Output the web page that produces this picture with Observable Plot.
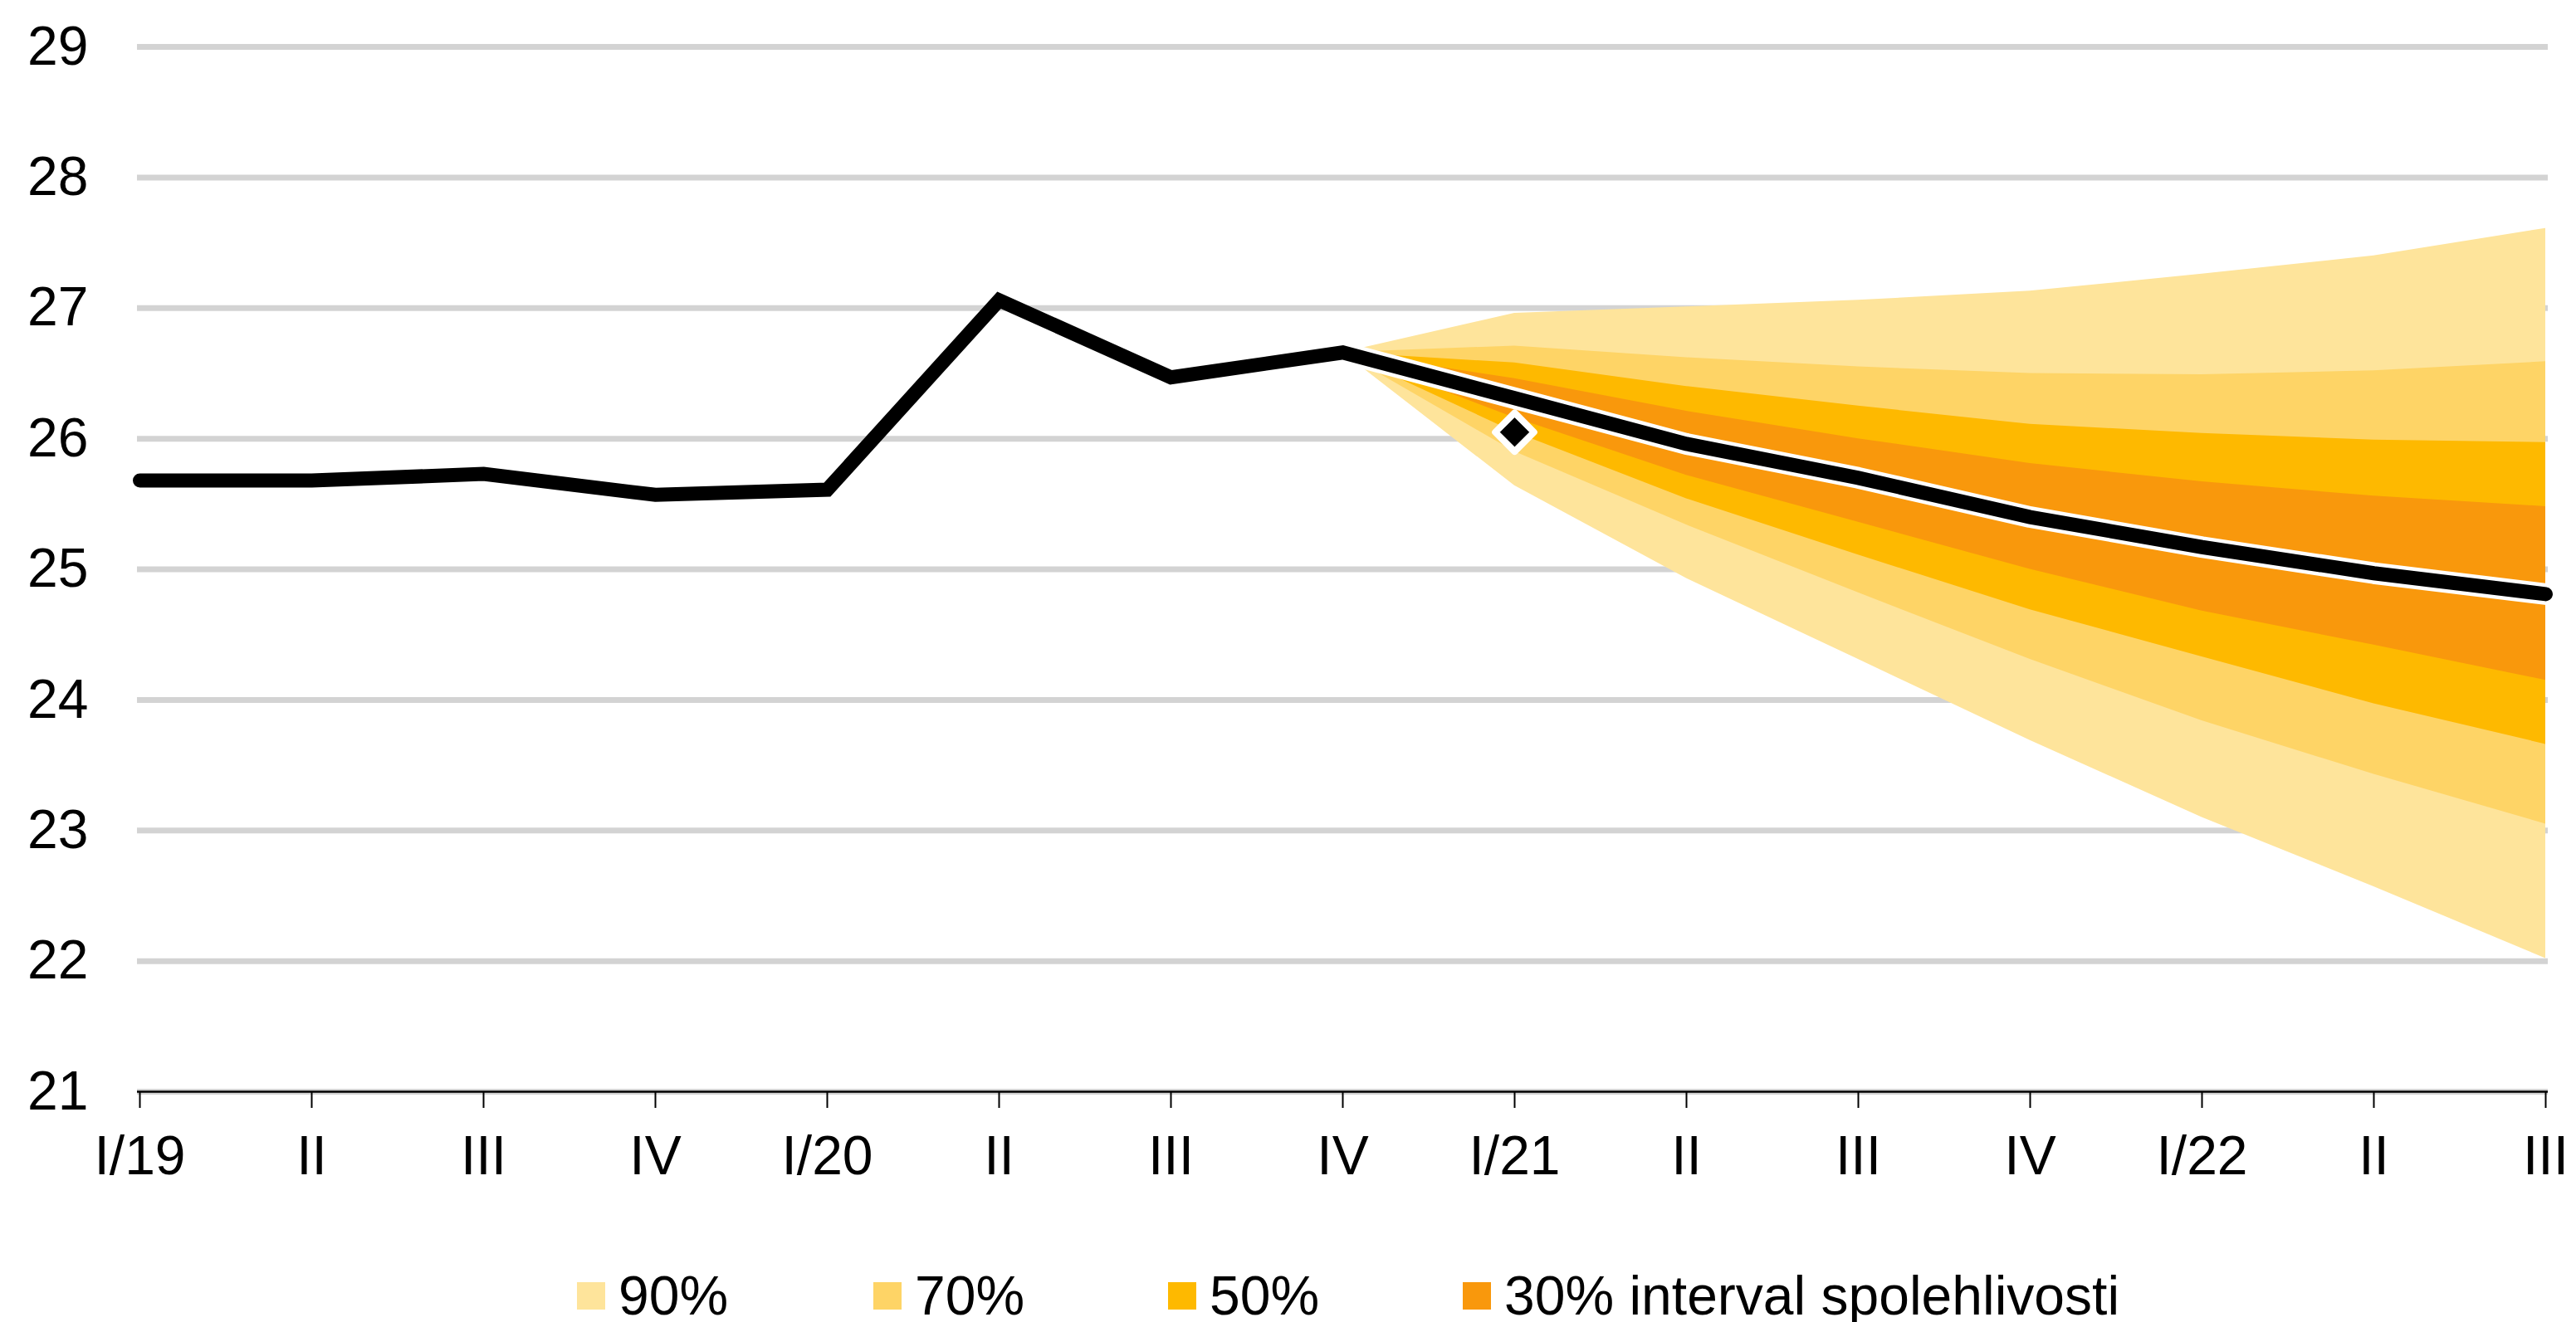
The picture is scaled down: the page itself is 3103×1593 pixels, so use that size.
<!DOCTYPE html>
<html>
<head>
<meta charset="utf-8">
<script src="https://cdn.jsdelivr.net/npm/d3@7"></script>
<script src="https://cdn.jsdelivr.net/npm/@observablehq/plot@0.6"></script>
<style>
  html, body { margin: 0; padding: 0; background: #fff; }
  body { width: 3103px; height: 1593px; position: relative; overflow: hidden; font-family: "Liberation Sans", Arial, sans-serif; }
  #chart { position: absolute; left: 0; top: 0; }
  .legend-item { position: absolute; top: 1523px; height: 76px; display: flex; align-items: center; font-size: 66px; line-height: 76px; color: #000; white-space: nowrap; }
  .sw { width: 34px; height: 33px; margin-right: 16px; display: inline-block; }
</style>
</head>
<body>
<div id="chart"></div>
<div id="legend"></div>
<script>
// ---- Data ----
const periods = ["I/19","II/19","III/19","IV/19","I/20","II/20","III/20","IV/20","I/21","II/21","III/21","IV/21","I/22","II/22","III/22"];
const tickLabels = ["I/19","II","III","IV","I/20","II","III","IV","I/21","II","III","IV","I/22","II","III"];

// actual (I/19 .. IV/20)
const actualPeriods = ["I/19","II/19","III/19","IV/19","I/20","II/20","III/20","IV/20"];
const actualValues = [25.68, 25.68, 25.73, 25.57, 25.61, 27.06, 26.47, 26.66];

// forecast (IV/20 .. III/22)
const fcPeriods = ["IV/20","I/21","II/21","III/21","IV/21","I/22","II/22","III/22"];
const fcCenter = [26.66, 26.31, 25.96, 25.70, 25.40, 25.17, 24.97, 24.81];
const lo90 = [26.66, 25.64, 24.93, 24.31, 23.69, 23.10, 22.57, 22.02];
const hi90 = [26.66, 26.96, 27.01, 27.06, 27.13, 27.26, 27.40, 27.61];
const lo70 = [26.66, 25.90, 25.34, 24.82, 24.31, 23.84, 23.43, 23.05];
const hi70 = [26.66, 26.71, 26.62, 26.55, 26.50, 26.49, 26.52, 26.59];
const lo50 = [26.66, 26.05, 25.54, 25.11, 24.69, 24.33, 23.97, 23.66];
const hi50 = [26.66, 26.58, 26.40, 26.25, 26.11, 26.04, 25.99, 25.97];
const lo30 = [26.66, 26.16, 25.72, 25.36, 25.00, 24.68, 24.42, 24.15];
const hi30 = [26.66, 26.46, 26.21, 26.00, 25.81, 25.67, 25.56, 25.48];

// previous forecast point
const prevPeriod = ["I/21"];
const prevValue = [26.05];

const yTicks = [21, 22, 23, 24, 25, 26, 27, 28, 29];
const bandNames = ["90%", "70%", "50%", "30% interval spolehlivosti"];
const bandColors = ["#fee49b", "#fed466", "#feb900", "#f9980c"];

// ---- Build tables ----
const actual = actualPeriods.map((p, i) => ({p, v: actualValues[i]}));
const all = actual.concat(fcPeriods.slice(1).map((p, i) => ({p, v: fcCenter[i + 1]})));
const fc = fcPeriods.map((p, i) => ({p, v: fcCenter[i]}));
const bands = [[lo90, hi90], [lo70, hi70], [lo50, hi50], [lo30, hi30]].map(([lo, hi]) =>
  fcPeriods.map((p, i) => ({p, lo: lo[i], hi: hi[i]})));
const prev = prevPeriod.map((p, i) => ({p, v: prevValue[i]}));

const chart = Plot.plot({
  width: 3103,
  height: 1460,
  marginLeft: 165,
  marginRight: 34,
  marginTop: 56,
  marginBottom: 145,
  style: {fontFamily: "'Liberation Sans', Arial, sans-serif", fontSize: "66px", color: "#000", background: "#fff"},
  x: {type: "point", domain: periods, padding: 0},
  y: {domain: [21, 29]},
  marks: [
    Plot.ruleY(yTicks, {stroke: "#d3d3d3", strokeWidth: 7}),
    ...bands.map((b, k) => Plot.areaY(b, {x: "p", y1: "lo", y2: "hi", fill: bandColors[k]})),
    Plot.line(fc, {x: "p", y: "v", stroke: "#fff", strokeWidth: 26, strokeLinejoin: "miter"}),
    Plot.line(all, {x: "p", y: "v", stroke: "#000", strokeWidth: 17, strokeLinejoin: "miter", strokeMiterlimit: 6}),
    Plot.dot(prev, {x: "p", y: "v", symbol: "diamond2", r: 21, fill: "#000", stroke: "#fff", strokeWidth: 8, strokeLinejoin: "round"}),
    Plot.ruleY([21], {stroke: "#000", strokeWidth: 2.5}),
    Plot.axisX({tickSize: 20, tickPadding: 33, stroke: "#000", strokeWidth: 2, fontSize: 66, label: null,
      tickFormat: d => tickLabels[periods.indexOf(d)]}),
    Plot.axisY({ticks: yTicks, tickSize: 0, tickPadding: 59, fontSize: 66, label: null})
  ]
});
document.getElementById("chart").appendChild(chart);

// ---- Legend ----
const legend = document.getElementById("legend");
const legendLeft = [695, 1052, 1407, 1762];
bandNames.forEach((name, k) => {
  const item = document.createElement("div");
  item.className = "legend-item";
  item.style.left = legendLeft[k] + "px";
  const sw = document.createElement("span");
  sw.className = "sw";
  sw.style.background = bandColors[k];
  const t = document.createElement("span");
  t.textContent = name;
  item.appendChild(sw);
  item.appendChild(t);
  legend.appendChild(item);
});
</script>
</body>
</html>
